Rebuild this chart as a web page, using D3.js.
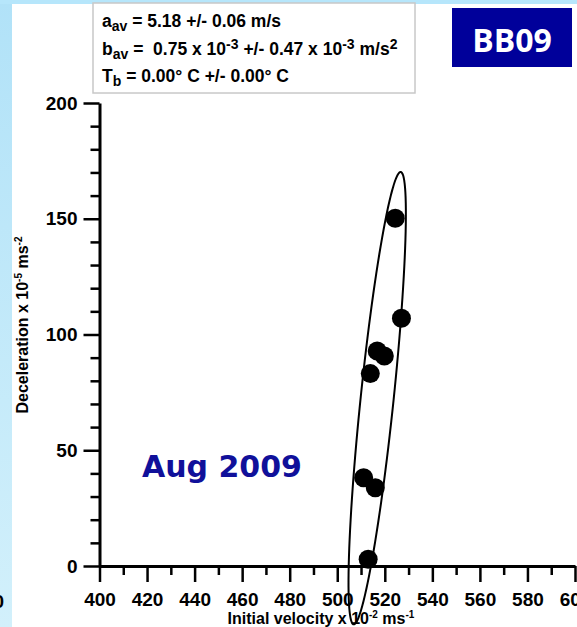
<!DOCTYPE html>
<html>
<head>
<meta charset="utf-8">
<script src="https://cdn.jsdelivr.net/npm/d3@7"></script>
<style>
  body { margin: 0; background: #fff; }
  svg { display: block; }
  text { font-family: "Liberation Sans", Arial, sans-serif; font-weight: bold; white-space: pre; }
  .badge { font-family: "Open Sans", sans-serif; }
  .date { font-family: "DejaVu Sans", sans-serif; }
</style>
</head>
<body>
<div class="chart"></div>
<script>
// measured points (initial velocity x 10^-2 m/s, deceleration x 10^-5 m/s^2)
const velocity = [524.4, 527.0, 516.8, 519.8, 513.9, 511.1, 516.0, 513.0];
const deceleration = [150.2, 107.0, 92.9, 90.7, 83.1, 38.1, 33.8, 2.9];

// fit ellipse in data units: centre, semi-major and semi-minor vectors
const ellipseCenter = [516.8, 72.5];
const ellipseMajor = [9.9, 97.7];
const ellipseMinor = [6.9, -0.72];

// tick values
const xMajor = [400, 420, 440, 460, 480, 500, 520, 540, 560, 580, 600];
const xMinor = [410, 430, 450, 470, 490, 510, 530, 550, 570, 590];
const yMajor = [0, 50, 100, 150, 200];
const yMinor = [10, 20, 30, 40, 60, 70, 80, 90, 110, 120, 130, 140, 160, 170, 180, 190];

const fitLines = [
  [["a", ""], ["av", "sub"], [" = 5.18 +/- 0.06 m/s", ""]],
  [["b", ""], ["av", "sub"], [" =  0.75 x 10", ""], ["-3", "sup"], [" +/- 0.47 x 10", ""], ["-3", "sup"], [" m/s", ""], ["2", "sup"]],
  [["T", ""], ["b", "sub"], [" = 0.00\u00b0 C +/- 0.00\u00b0 C", ""]]
];
const badgeLabel = "BB09";
const dateLabel = "Aug 2009";

const W = 577, H = 627;

let svg = d3.select(".chart")
  .append("svg")
  .attr("width", W)
  .attr("height", H);

svg.append("rect").attr("width", W).attr("height", H).attr("fill", "#fff");

// light blue page edges
let grad = svg.append("defs").append("linearGradient")
  .attr("id", "edge").attr("x1", 0).attr("y1", 0).attr("x2", 0).attr("y2", 1);
grad.append("stop").attr("offset", 0).attr("stop-color", "#b1e2f8");
grad.append("stop").attr("offset", 1).attr("stop-color", "#d2f0fb");
svg.append("rect").attr("x", 0).attr("y", 0).attr("width", 12).attr("height", H).attr("fill", "url(#edge)");
svg.append("rect").attr("x", 0).attr("y", 0).attr("width", W).attr("height", 4).attr("fill", "#b6e6fb");

// neighbouring panel's tick label, cut at the edge
svg.append("text").attr("x", 4).attr("y", 608).attr("text-anchor", "end")
  .attr("font-size", 19).text("600");

// scales
let x = d3.scaleLinear().domain([400, 600]).range([99.5, 575]);
let y = d3.scaleLinear().domain([0, 200]).range([566, 103]);

// axes
function styleAxis(g) {
  g.select(".domain").attr("stroke", "#000").attr("stroke-width", 3);
  g.selectAll(".tick line").attr("stroke", "#000").attr("stroke-width", 2.5);
  g.selectAll(".tick text").attr("font-size", 19).attr("fill", "#000")
    .attr("font-family", "Liberation Sans, Arial, sans-serif").attr("font-weight", "bold");
}

svg.append("g")
  .attr("transform", "translate(0," + y(0) + ")")
  .call(d3.axisBottom(x).tickValues(xMinor).tickSize(9).tickSizeOuter(0).tickFormat(""))
  .call(g => g.select(".domain").remove())
  .call(styleAxis);
svg.append("g")
  .attr("transform", "translate(0," + y(0) + ")")
  .call(d3.axisBottom(x).tickValues(xMajor).tickSize(16).tickSizeOuter(0).tickPadding(11).tickFormat(d3.format("d")))
  .call(styleAxis);

svg.append("g")
  .attr("transform", "translate(" + x(400) + ",0)")
  .call(d3.axisLeft(y).tickValues(yMinor).tickSize(9).tickSizeOuter(0).tickFormat(""))
  .call(g => g.select(".domain").remove())
  .call(styleAxis);
svg.append("g")
  .attr("transform", "translate(" + x(400) + ",0)")
  .call(d3.axisLeft(y).tickValues(yMajor).tickSize(16).tickSizeOuter(0).tickPadding(6).tickFormat(d3.format("d")))
  .call(styleAxis);

// axis titles
function richText(t, parts, supSize, shift) {
  parts.forEach(p => {
    let ts = t.append("tspan").text(p[0]);
    if (p[1] === "sup") ts.attr("font-size", supSize).attr("dy", -shift);
    if (p[1] === "back") ts.attr("dy", shift);
  });
}

let xt = svg.append("text").attr("x", 321).attr("y", 624).attr("text-anchor", "middle").attr("font-size", 16);
richText(xt, [["Initial velocity x 10", ""], ["-2", "sup"], [" ms", "back"], ["-1", "sup"]], 10, 6);

let yt = svg.append("text").attr("transform", "translate(28,325) rotate(-90)")
  .attr("text-anchor", "middle").attr("font-size", 16);
richText(yt, [["Deceleration x 10", ""], ["-5", "sup"], [" ms", "back"], ["-2", "sup"]], 10, 6);

// ellipse through the scales
let ts = d3.range(0, 361, 3).map(d => d * Math.PI / 180);
let ellipse = ts.map(t => [
  ellipseCenter[0] + Math.cos(t) * ellipseMajor[0] + Math.sin(t) * ellipseMinor[0],
  ellipseCenter[1] + Math.cos(t) * ellipseMajor[1] + Math.sin(t) * ellipseMinor[1]
]);
svg.append("path")
  .datum(ellipse)
  .attr("d", d3.line().x(d => x(d[0])).y(d => y(d[1])).curve(d3.curveCardinalClosed))
  .attr("fill", "none")
  .attr("stroke", "#000")
  .attr("stroke-width", 2);

// points
svg.selectAll("circle.pt")
  .data(velocity.map((v, i) => [v, deceleration[i]]))
  .enter()
  .append("circle")
  .attr("class", "pt")
  .attr("cx", d => x(d[0]))
  .attr("cy", d => y(d[1]))
  .attr("r", 9.5)
  .attr("fill", "#000");

// fit summary box
svg.append("rect")
  .attr("x", 93).attr("y", 3).attr("width", 322).attr("height", 90)
  .attr("fill", "#fff").attr("stroke", "#c8c8c8").attr("stroke-width", 1.5);
fitLines.forEach((line, i) => {
  let t = svg.append("text").attr("x", 102).attr("y", 27 + i * 27.5).attr("font-size", 17.5);
  let prev = "";
  line.forEach(p => {
    let s = t.append("tspan").text(p[0]);
    if (p[1] === "sub") s.attr("font-size", 14).attr("dy", 4);
    if (p[1] === "sup") s.attr("font-size", 14).attr("dy", prev === "sub" ? -10 : -6);
    if (p[1] === "" && prev === "sub") s.attr("dy", -4);
    if (p[1] === "" && prev === "sup") s.attr("dy", 6);
    prev = p[1];
  });
});

// badge
svg.append("rect").attr("x", 452).attr("y", 8).attr("width", 120).attr("height", 59).attr("fill", "#00009a");
svg.append("text").attr("class", "badge")
  .attr("x", 512).attr("y", 51.5).attr("text-anchor", "middle")
  .attr("font-size", 32).attr("fill", "#fff").text(badgeLabel);

svg.append("text").attr("class", "date")
  .attr("x", 142).attr("y", 477)
  .attr("font-size", 30).attr("fill", "#10109a").text(dateLabel);
</script>
</body>
</html>
